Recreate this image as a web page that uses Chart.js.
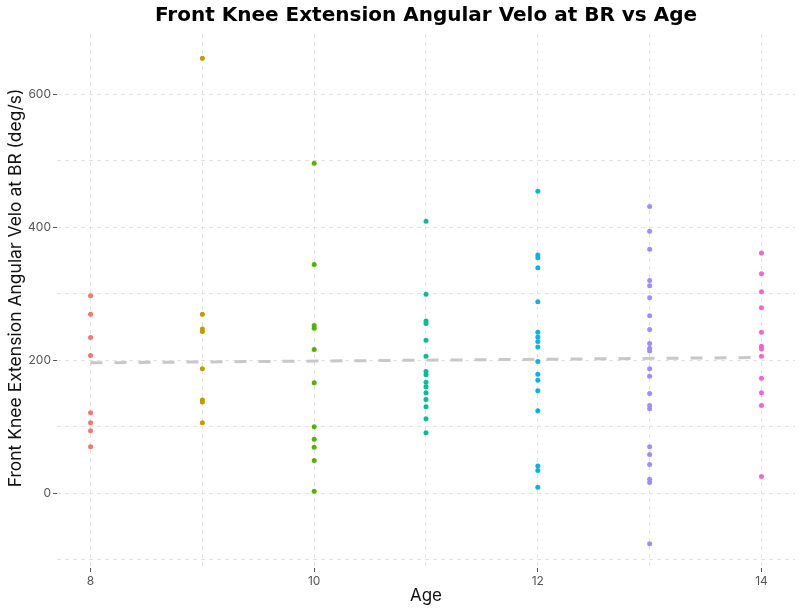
<!DOCTYPE html>
<html>
<head>
<meta charset="utf-8">
<script src="https://cdn.jsdelivr.net/npm/chart.js@4"></script>
<style>
html,body{margin:0;padding:0;background:#fff;}
#wrap{width:801px;height:611px;}
</style>
</head>
<body>
<div id="wrap"><canvas id="c" width="801" height="611"></canvas></div>
<script>
const ages = [8, 9, 10, 11, 12, 13, 14];
const age8  = [297, 269, 234, 207, 121, 106, 94, 70];
const age9  = [654, 269, 247, 243, 187, 140, 137, 106];
const age10 = [496, 344, 252, 248, 216, 166, 100, 81, 69, 49, 3];
const age11 = [409, 299, 259, 255, 230, 206, 183, 178, 167, 160, 151, 141, 130, 112, 91];
const age12 = [454, 358, 354, 339, 288, 242, 235, 228, 220, 198, 179, 170, 154, 124, 41, 34, 9];
const age13 = [431, 394, 367, 320, 312, 294, 267, 246, 225, 218, 214, 187, 176, 150, 132, 127, 70, 58, 43, 21, 16, -76];
const age14 = [361, 330, 303, 279, 242, 221, 217, 206, 173, 151, 132, 25];
const trendAges = [8, 14];
const trendValues = [196, 204];
const xTicks = [8, 10, 12, 14];
const xGrid = [8, 9, 10, 11, 12, 13, 14];
const yTicks = [0, 200, 400, 600];
const yGrid = [-100, 0, 100, 200, 300, 400, 500, 600];
const colors = ['#F8766D', '#C49A00', '#53B400', '#00C094', '#00B6EB', '#A58AFF', '#FB61D7'];
const groups = [age8, age9, age10, age11, age12, age13, age14];
const titleText = 'Front Knee Extension Angular Velo at BR vs Age';
const yTitleText = 'Front Knee Extension Angular Velo at BR (deg/s)';
const xTitleText = 'Age';

const FONT = 'Inter';
const datasets = groups.map((vals, i) => ({
  type: 'scatter',
  label: String(ages[i]),
  data: vals.map(v => ({x: ages[i], y: v})),
  backgroundColor: colors[i],
  borderColor: colors[i],
  borderWidth: 0,
  pointRadius: 2.5,
  order: 1
}));
datasets.push({
  type: 'line',
  label: 'trend',
  data: trendAges.map((a, i) => ({x: a, y: trendValues[i]})),
  borderColor: '#c8c8c8',
  borderWidth: 3,
  borderDash: [12, 12],
  pointRadius: 0,
  fill: false,
  order: 2
});

const textPlugin = {
  id: 'texts',
  afterDraw(chart) {
    const ctx = chart.ctx;
    const a = chart.chartArea;
    ctx.save();
    ctx.fillStyle = '#000';
    ctx.font = 'bold 20px "DejaVu Sans"';
    ctx.textAlign = 'center';
    ctx.textBaseline = 'middle';
    ctx.fillText(titleText, (a.left + a.right) / 2, 16);
    ctx.restore();
    ctx.save();
    ctx.fillStyle = '#111';
    ctx.font = '17.5px ' + FONT;
    ctx.textAlign = 'center';
    ctx.textBaseline = 'middle';
    ctx.translate(16, 288);
    ctx.rotate(-Math.PI / 2);
    ctx.fillText(yTitleText, 0, 0);
    ctx.restore();
  }
};

new Chart(document.getElementById('c'), {
  data: {datasets},
  plugins: [textPlugin],
  options: {
    responsive: false,
    animation: false,
    layout: {padding: {left: 0, right: 6, top: 34, bottom: 0}},
    plugins: {
      legend: {display: false},
      tooltip: {enabled: false},
      title: {display: false}
    },
    scales: {
      x: {
        type: 'linear',
        min: 7.7, max: 14.3,
        border: {display: false, dash: [4, 4]},
        grid: {
          color: '#e3e3e3', lineWidth: 1,
          tickLength: 4,
          tickColor: ctx => (ctx.tick && xTicks.includes(ctx.tick.value) ? '#555' : 'rgba(0,0,0,0)'),
          tickBorderDash: []
        },
        afterBuildTicks: s => { s.ticks = xGrid.map(v => ({value: v})); },
        ticks: {
          autoSkip: false, maxRotation: 0,
          padding: 2,
          color: '#555', font: {family: FONT, size: 12},
          callback: v => (xTicks.includes(v) ? String(v) : '')
        },
        title: {display: true, text: xTitleText, color: '#111', font: {family: FONT, size: 17}, padding: {top: 0, bottom: 5}},
        afterFit: s => { s.height = 43; }
      },
      y: {
        type: 'linear',
        min: -112.5, max: 690.5,
        border: {display: false, dash: [4, 4]},
        grid: {
          color: '#e3e3e3', lineWidth: 1,
          tickLength: 4,
          tickColor: ctx => (ctx.tick && yTicks.includes(ctx.tick.value) ? '#555' : 'rgba(0,0,0,0)'),
          tickBorderDash: []
        },
        afterBuildTicks: s => { s.ticks = yGrid.map(v => ({value: v})); },
        ticks: {
          autoSkip: false,
          padding: 2,
          color: '#555', font: {family: FONT, size: 12},
          callback: v => (yTicks.includes(v) ? String(v) : '')
        },
        title: {display: false},
        afterFit: s => { s.width = 57; }
      }
    }
  }
});
</script>
</body>
</html>
